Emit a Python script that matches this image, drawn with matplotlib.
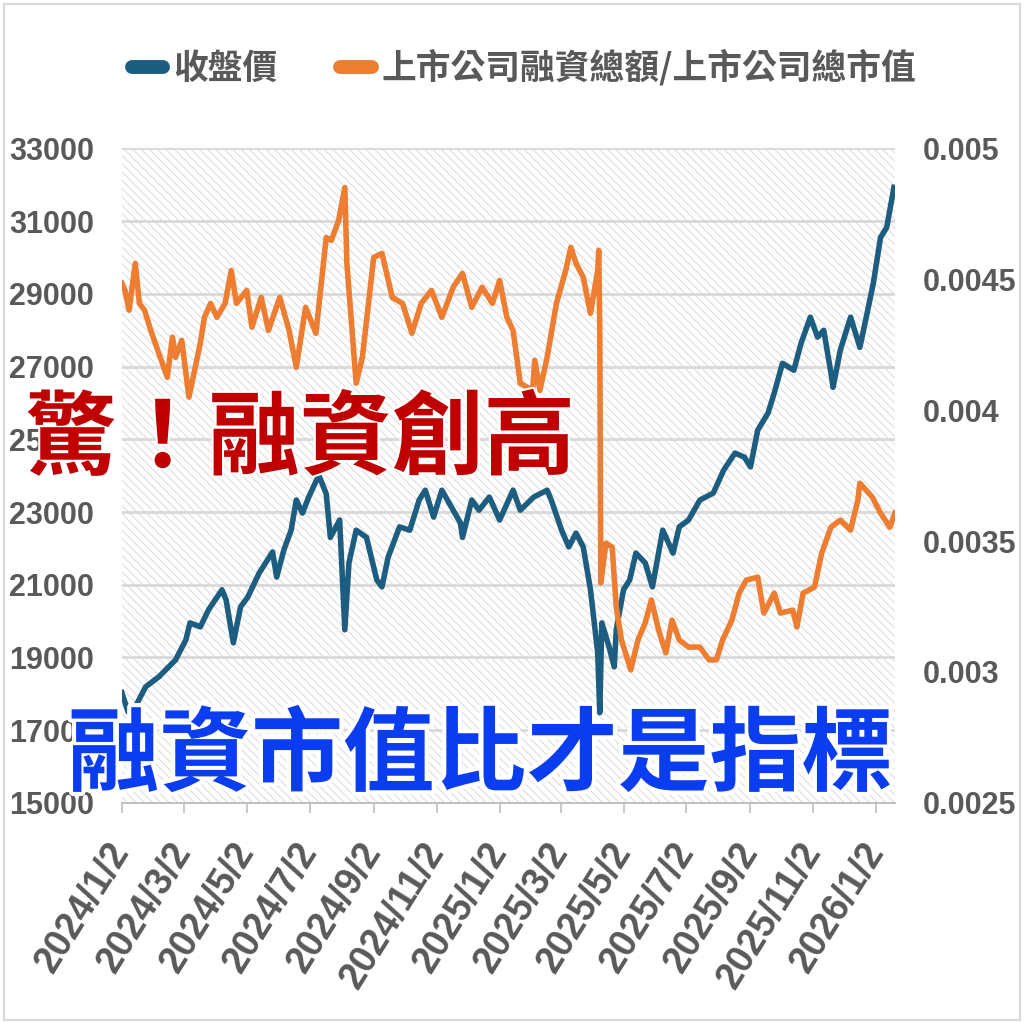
import matplotlib
matplotlib.use("Agg")
import matplotlib.pyplot as plt
import matplotlib.patheffects as pe
from matplotlib.lines import Line2D
from matplotlib.patches import Rectangle
import pandas as pd

# 收盤價 (left axis)
close_dates = ["2024-01-02", "2024-01-08", "2024-01-15", "2024-01-25", "2024-02-07", "2024-02-23",
               "2024-03-04", "2024-03-08", "2024-03-18", "2024-03-26", "2024-04-08", "2024-04-12",
               "2024-04-19", "2024-04-26", "2024-05-03", "2024-05-14", "2024-05-27", "2024-05-31",
               "2024-06-07", "2024-06-14", "2024-06-19", "2024-06-25", "2024-07-01", "2024-07-09",
               "2024-07-11", "2024-07-18", "2024-07-22", "2024-07-31", "2024-08-05", "2024-08-09",
               "2024-08-16", "2024-08-26", "2024-09-05", "2024-09-10", "2024-09-16", "2024-09-27",
               "2024-10-07", "2024-10-16", "2024-10-22", "2024-10-30", "2024-11-07", "2024-11-25",
               "2024-11-27", "2024-12-06", "2024-12-13", "2024-12-23", "2025-01-02", "2025-01-15",
               "2025-01-22", "2025-02-04", "2025-02-17", "2025-02-21", "2025-03-03", "2025-03-10",
               "2025-03-17", "2025-03-24", "2025-03-31", "2025-04-07", "2025-04-09", "2025-04-11",
               "2025-04-18", "2025-04-23", "2025-04-25", "2025-05-02", "2025-05-08", "2025-05-14",
               "2025-05-23", "2025-05-30", "2025-06-09", "2025-06-19", "2025-06-25", "2025-07-04",
               "2025-07-15", "2025-07-28", "2025-08-07", "2025-08-18", "2025-08-27", "2025-09-02",
               "2025-09-09", "2025-09-19", "2025-09-25", "2025-10-03", "2025-10-14", "2025-10-21",
               "2025-10-30", "2025-11-06", "2025-11-12", "2025-11-19", "2025-11-21", "2025-11-28",
               "2025-12-08", "2025-12-17", "2025-12-24", "2025-12-30", "2026-01-06", "2026-01-12",
               "2026-01-19"]
close_vals = [18030, 17500, 17640, 18190, 18470, 18930,
              19480, 19950, 19840, 20310, 20860, 20580,
              19400, 20390, 20660, 21320, 21900, 21210,
              21960, 22500, 23330, 22970, 23410, 23900,
              24000, 23500, 22300, 22780, 19760, 21600,
              22500, 22300, 21130, 20940, 21760, 22590,
              22500, 23330, 23600, 22860, 23600, 22700,
              22300, 23330, 23050, 23410, 22780, 23600,
              23050, 23410, 23600, 23330, 22500, 22040,
              22420, 22040, 20860, 19130, 17480, 19950,
              19290, 18740, 19760, 20860, 21130, 21870,
              21600, 20940, 22500, 21870, 22590, 22780,
              23330, 23520, 24150, 24620, 24510, 24240,
              25250, 25720, 26270, 27090, 26900, 27640,
              28360, 27810, 28000, 26820, 26430, 27450,
              28360, 27530, 28470, 29290, 30550, 30830,
              31930]

# 上市公司融資總額/上市公司總市值 (right axis)
ratio_dates = ["2024-01-02", "2024-01-05", "2024-01-09", "2024-01-15", "2024-01-19", "2024-01-24",
               "2024-01-30", "2024-02-15", "2024-02-20", "2024-02-23", "2024-02-29", "2024-03-07",
               "2024-03-18", "2024-03-22", "2024-03-28", "2024-04-03", "2024-04-11", "2024-04-17",
               "2024-04-22", "2024-05-02", "2024-05-07", "2024-05-16", "2024-05-23", "2024-06-03",
               "2024-06-12", "2024-06-19", "2024-06-28", "2024-07-08", "2024-07-18", "2024-07-23",
               "2024-07-30", "2024-08-05", "2024-08-07", "2024-08-16", "2024-08-22", "2024-09-02",
               "2024-09-10", "2024-09-20", "2024-09-30", "2024-10-09", "2024-10-18", "2024-10-28",
               "2024-11-07", "2024-11-18", "2024-11-27", "2024-12-06", "2024-12-16", "2024-12-26",
               "2025-01-02", "2025-01-09", "2025-01-15", "2025-01-22", "2025-02-03", "2025-02-05",
               "2025-02-10", "2025-02-17", "2025-02-26", "2025-03-07", "2025-03-12", "2025-03-17",
               "2025-03-24", "2025-03-31", "2025-04-07", "2025-04-08", "2025-04-09", "2025-04-10",
               "2025-04-15", "2025-04-21", "2025-04-25", "2025-04-30", "2025-05-09", "2025-05-16",
               "2025-05-23", "2025-05-29", "2025-06-05", "2025-06-12", "2025-06-18", "2025-06-25",
               "2025-07-04", "2025-07-15", "2025-07-24", "2025-07-31", "2025-08-06", "2025-08-15",
               "2025-08-22", "2025-08-29", "2025-09-09", "2025-09-15", "2025-09-25", "2025-10-01",
               "2025-10-13", "2025-10-17", "2025-10-23", "2025-11-03", "2025-11-10", "2025-11-19",
               "2025-11-28", "2025-12-08", "2025-12-15", "2025-12-17", "2025-12-29", "2026-01-06",
               "2026-01-15", "2026-01-20"]
ratio_vals = [0.004485, 0.004458, 0.004382, 0.004561, 0.004408, 0.004382,
              0.004305, 0.004126, 0.004279, 0.004202, 0.004267, 0.004050,
              0.004256, 0.004355, 0.004408, 0.004355, 0.004408, 0.004534,
              0.004408, 0.004458, 0.004317, 0.004431, 0.004305, 0.004431,
              0.004305, 0.004164, 0.004393, 0.004294, 0.004660, 0.004649,
              0.004725, 0.004851, 0.004561, 0.004103, 0.004202, 0.004584,
              0.004599, 0.004431, 0.004408, 0.004294, 0.004408, 0.004458,
              0.004355, 0.004470, 0.004523, 0.004393, 0.004470, 0.004408,
              0.004496, 0.004355, 0.004305, 0.004103, 0.004076, 0.004191,
              0.004076, 0.004202, 0.004408, 0.004534, 0.004622, 0.004561,
              0.004508, 0.004370, 0.004534, 0.004611, 0.004310, 0.003340,
              0.003492, 0.003477, 0.003248, 0.003122, 0.003008, 0.003122,
              0.003187, 0.003275, 0.003160, 0.003073, 0.003198, 0.003122,
              0.003095, 0.003095, 0.003046, 0.003046, 0.003122, 0.003198,
              0.003301, 0.003351, 0.003362, 0.003225, 0.003301, 0.003225,
              0.003236, 0.003172, 0.003301, 0.003324, 0.003454, 0.003553,
              0.003580, 0.003542, 0.003656, 0.003721, 0.003668, 0.003607,
              0.003553, 0.003607]

tick_dates = ["2024-01-02", "2024-03-02", "2024-05-02", "2024-07-02", "2024-09-02", "2024-11-02",
              "2025-01-02", "2025-03-02", "2025-05-02", "2025-07-02", "2025-09-02", "2025-11-02",
              "2026-01-02"]
tick_labels = ["2024/1/2", "2024/3/2", "2024/5/2", "2024/7/2", "2024/9/2", "2024/11/2",
               "2025/1/2", "2025/3/2", "2025/5/2", "2025/7/2", "2025/9/2", "2025/11/2",
               "2026/1/2"]
left_ticks = [15000, 17000, 19000, 21000, 23000, 25000, 27000, 29000, 31000, 33000]
right_ticks = [0.0025, 0.003, 0.0035, 0.004, 0.0045, 0.005]
right_labels = ["0.0025", "0.003", "0.0035", "0.004", "0.0045", "0.005"]

BLUE = "#1d5e80"
ORANGE = "#ed7d31"
GREY = "#595959"
CJK = ["Noto Sans CJK TC", "DejaVu Sans"]
NUM = ["Liberation Sans", "DejaVu Sans"]

plt.rcParams["hatch.linewidth"] = 0.7

fig = plt.figure(figsize=(10.24, 10.24), dpi=100)
fig.patch.set_facecolor("white")
fig.add_artist(Rectangle((0.004, 0.004), 0.992, 0.992, transform=fig.transFigure,
                         fill=False, edgecolor="#d9d9d9", lw=1.5))

ax = fig.add_axes([0.119, 0.216, 0.755, 0.639])
ax.patch.set_visible(False)
ax.add_patch(Rectangle((0, 0), 1, 1, transform=ax.transAxes, facecolor="white",
                       edgecolor="#dadada", hatch="\\\\\\\\", lw=0, zorder=0.1))
ax2 = ax.twinx()

cd = pd.to_datetime(close_dates)
rd = pd.to_datetime(ratio_dates)
ax.plot(cd, close_vals, color=BLUE, lw=4, solid_joinstyle="round", zorder=3)
ax2.plot(rd, ratio_vals, color=ORANGE, lw=4, solid_joinstyle="round", zorder=3)

ax.set_ylim(15000, 33000)
ax2.set_ylim(0.0025, 0.005)
ax.set_xlim(pd.Timestamp("2024-01-02"), pd.Timestamp("2026-01-20"))

ax.set_yticks(left_ticks)
ax.set_yticklabels([str(v) for v in left_ticks])
ax2.set_yticks(right_ticks)
ax2.set_yticklabels(right_labels)
ax.grid(axis="y", color="#d9d9d9", lw=2)
ax.set_axisbelow(True)

ax.set_xticks(pd.to_datetime(tick_dates))
ax.set_xticklabels(tick_labels, rotation=58, ha="right", va="center",
                   rotation_mode="anchor", fontsize=27, fontweight="bold",
                   family=NUM, color=GREY)
ax.tick_params(axis="x", length=7, color="#bfbfbf", width=1.2, pad=24)

ax.tick_params(axis="y", length=0, pad=20, labelsize=22, labelcolor=GREY)
ax2.tick_params(axis="y", length=0, pad=20, labelsize=22, labelcolor=GREY)
for lab in ax.get_yticklabels() + ax2.get_yticklabels():
    lab.set_fontfamily(NUM)
    lab.set_fontweight("bold")

for a in (ax, ax2):
    for s in ("top", "left", "right"):
        a.spines[s].set_visible(False)
    a.spines["bottom"].set_color("#bfbfbf")
    a.spines["bottom"].set_linewidth(1.2)

handles = [Line2D([], [], color=BLUE, lw=10, solid_capstyle="round"),
           Line2D([], [], color=ORANGE, lw=10, solid_capstyle="round")]
fig.legend(handles, ["收盤價", "上市公司融資總額/上市公司總市值"], loc="center",
           bbox_to_anchor=(0.512, 0.934), ncol=2, frameon=False, handlelength=0.9,
           handletextpad=0.3, columnspacing=1.8,
           prop={"family": CJK, "size": 25, "weight": "bold"}, labelcolor=GREY)

fig.text(0.293, 0.570, "驚！融資創高", ha="center", va="center", fontsize=66,
         fontweight="black", family=CJK, color="#c00000", zorder=10,
         path_effects=[pe.withStroke(linewidth=3, foreground="white")])
fig.text(0.469, 0.261, "融資市值比才是指標", ha="center", va="center", fontsize=66,
         fontweight="black", family=CJK, color="#0a3cf0", zorder=10,
         path_effects=[pe.withStroke(linewidth=6, foreground="white")])

fig.savefig("out.png", dpi=100)
